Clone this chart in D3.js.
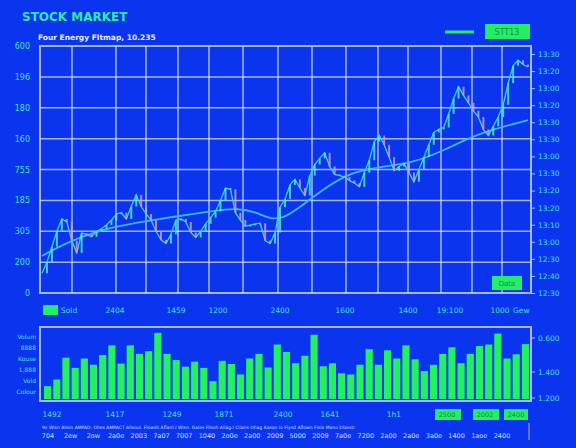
<!DOCTYPE html>
<html><head><meta charset="utf-8">
<script src="https://cdn.jsdelivr.net/npm/d3@7"></script>
<style>body{margin:0;background:#0b34ee}svg{display:block}text{font-family:"DejaVu Sans",sans-serif}</style>
</head><body><svg id="c" width="576" height="448"></svg>
<script>
const closes=[32,50,75,100,120,115,85,65,97,95,91,100,104,110,118,128,130,120,140,159,140,128,118,100,86,80,95,118,120,115,98,90,100,112,122,132,150,170,168,130,118,108,110,112,113,85,80,98,139,152,175,184,170,158,190,208,218,227,205,192,190,188,182,178,172,195,215,245,255,240,220,198,205,210,195,180,200,220,240,260,265,268,290,315,334,320,308,295,285,265,255,270,285,305,340,368,377,370,366];
const maX=[0,6,14,22,32,40,44,48,54.6,61.4,68,74.6,81.4,88,98];
const maVals=[60,86,107,118,130,139,128,113,156,194,204,210,232,259,280];
const volumes=[33,50,106,80,104,88,113,138,91,138,116,123,170,116,100,83,96,80,46,98,90,63,104,116,81,140,121,92,111,165,84,92,66,63,88,128,88,125,104,138,102,72,88,116,133,92,116,136,140,168,104,115,141];
const leftTicks=["0","200","305","185","755","160","180","196","600"];
const rightTicks=["12:30","12:40","12:30","13:00","13:10","13:20","13:20","13:30","13:00","13:30","13:30","13:20","13:00","13:20","13:30"];
const vGrid=[72,116,146,178,209,243,278,312,346,378,408,441,472,502];
const xLabels1=[["2404",115],["1459",176],["1200",218],["2400",280],["1600",345],["1400",408],["19:100",450],["1000",500]];
const xLabels2=[["1492",52],["1417",115],["1249",172],["1871",224],["2400",283],["1641",330],["1h1",394]];
const volLeft=["Volum","8888","Kouse","1,888","Vold","Colour"];
const volRight=["0.600","1.400","1.200"];
const row2=["704","2ew","2ow","2a0e","2003","7a07","7007","1040","2o0e","2a00","2009","5000","2009","7a0e","7200","2a00","2a0e","3a0e","1400","1aoe","2400"];

const svg=d3.select("#c");
const G="rgba(215,230,255,0.75)",TXT="#44e0c0",GREEN="#22ee66";
const L=40,R=531,T=46,B=293;
const x=d3.scaleLinear().domain([0,closes.length-1]).range([L+2,R-3]);
const y=d3.scaleLinear().domain([0,400]).range([B,T]);
const yg=d3.scaleLinear().domain([0,8]).range([B,T]);
svg.append("g").selectAll("line").data(d3.range(1,8)).join("line")
 .attr("x1",L).attr("x2",R).attr("y1",d=>yg(d)).attr("y2",d=>yg(d)).attr("stroke",G).attr("stroke-width",1.5);
svg.append("g").selectAll("line").data(vGrid).join("line")
 .attr("x1",d=>d).attr("x2",d=>d).attr("y1",T).attr("y2",B).attr("stroke",G).attr("stroke-width",1.5);
svg.append("rect").attr("x",L).attr("y",T).attr("width",R-L).attr("height",B-T).attr("fill","none").attr("stroke",G).attr("stroke-width",2);
svg.append("g").selectAll("text").data(leftTicks).join("text").attr("x",30).attr("y",(d,i)=>yg(i)+3)
 .attr("text-anchor","end").attr("font-size",8).attr("fill",TXT).text(d=>d);
const yr=d3.scalePoint().domain(d3.range(15)).range([B,54]);
const ra=svg.append("g").attr("transform",`translate(${R},0)`).call(d3.axisRight(yr).tickSize(4).tickFormat(i=>rightTicks[i]));
ra.select(".domain").remove();
ra.selectAll("line").attr("stroke",G);
ra.selectAll("text").attr("fill",TXT).attr("font-size",7.5);
svg.append("path").datum(maX.map((d,i)=>[d,maVals[i]])).attr("fill","none").attr("stroke","#38b8e8").attr("stroke-width",1.8)
 .attr("d",d3.line().x(d=>x(d[0])).y(d=>y(d[1])).curve(d3.curveBasis));
svg.append("path").datum(closes).attr("fill","none").attr("stroke","#38d8c0").attr("stroke-width",1.3)
 .attr("d",d3.line().x((d,i)=>x(i)).y(d=>y(d)));
svg.append("g").selectAll("rect").data(closes.slice(1)).join("rect")
 .attr("x",(d,i)=>x(i+1)-1).attr("width",2)
 .attr("y",(d,i)=>y(Math.max(d,closes[i]))).attr("height",(d,i)=>Math.max(1.5,Math.abs(y(d)-y(closes[i]))))
 .attr("fill",(d,i)=>d>=closes[i]?"#50f0c8":"#e098b8").attr("opacity",0.8);
svg.append("text").attr("x",22).attr("y",21).attr("font-size",12).attr("font-weight","bold").attr("fill","#30e8a8").text("STOCK MARKET");
svg.append("text").attr("x",38).attr("y",40).attr("font-size",7.5).attr("font-weight","bold").attr("fill","#e8f0ff").text("Four Energy Fltmap, 10.235");
svg.append("line").attr("x1",445).attr("x2",474).attr("y1",32).attr("y2",32).attr("stroke",GREEN).attr("stroke-width",3);
svg.append("rect").attr("x",485).attr("y",24).attr("width",45).attr("height",15).attr("fill",GREEN);
svg.append("text").attr("x",507).attr("y",35).attr("text-anchor","middle").attr("font-size",8).attr("fill","#109040").text("STT13");
svg.append("rect").attr("x",492).attr("y",276).attr("width",30).attr("height",14).attr("fill",GREEN);
svg.append("text").attr("x",507).attr("y",286).attr("text-anchor","middle").attr("font-size",7).attr("fill","#109040").text("Data");
svg.append("rect").attr("x",43).attr("y",305).attr("width",15).attr("height",10).attr("fill",GREEN);
svg.append("text").attr("x",61).attr("y",313).attr("font-size",7.5).attr("fill",TXT).text("Sold");
svg.append("g").selectAll("text").data(xLabels1).join("text").attr("x",d=>d[1]).attr("y",313).attr("text-anchor","middle")
 .attr("font-size",7.5).attr("fill",TXT).text(d=>d[0]);
svg.append("text").attr("x",513).attr("y",313).attr("font-size",7.5).attr("fill",TXT).text("Gew");
const VL=40,VR=531,VT=327,VB=401;
const xb=d3.scaleBand().domain(d3.range(volumes.length)).range([VL+4,VR-2]).paddingInner(0.22);
const yv=d3.scaleLinear().domain([0,185]).range([VB-2,VT]);
svg.append("g").selectAll("rect").data(volumes).join("rect").attr("x",(d,i)=>xb(i)).attr("width",xb.bandwidth())
 .attr("y",d=>yv(d)).attr("height",d=>yv(0)-yv(d)).attr("fill","#22f060");
svg.append("rect").attr("x",VL).attr("y",VT).attr("width",VR-VL).attr("height",VB-VT).attr("fill","none").attr("stroke",G).attr("stroke-width",2);
svg.append("g").selectAll("text").data(volLeft).join("text").attr("x",36).attr("y",(d,i)=>339+i*11)
 .attr("text-anchor","end").attr("font-size",6).attr("fill",TXT).text(d=>d);
const vr=[338,372,398];
svg.append("g").selectAll("line").data(vr).join("line").attr("x1",R).attr("x2",R+4).attr("y1",d=>d).attr("y2",d=>d).attr("stroke",G);
svg.append("g").selectAll("text").data(volRight).join("text").attr("x",R+7).attr("y",(d,i)=>vr[i]+3)
 .attr("font-size",7.5).attr("fill",TXT).text(d=>d);
svg.append("g").selectAll("text").data(xLabels2).join("text").attr("x",d=>d[1]).attr("y",417).attr("text-anchor","middle")
 .attr("font-size",7.5).attr("fill",TXT).text(d=>d[0]);
[[435,"2500"],[473,"2002"],[504,"2400"]].forEach(([bx,t])=>{
 svg.append("rect").attr("x",bx).attr("y",409).attr("width",bx===504?24:26).attr("height",11).attr("fill",GREEN);
 svg.append("text").attr("x",bx+12).attr("y",417).attr("text-anchor","middle").attr("font-size",6.5).attr("fill","#109040").text(t);
});
svg.append("text").attr("x",42).attr("y",429).attr("font-size",4.5).attr("fill","#c8d8ff")
 .text("9x   Wisn Allsin AMPAD. Ohes AMPACT Allsoul. Flowsh Aflant.l Wisn. Gales Filsoh Allag.l Cilans Ohag Aasan lo Flysd Aflown Flsle Mano Dlasstl");
svg.append("g").selectAll("text").data(row2).join("text").attr("x",(d,i)=>48+i*22.7).attr("y",438).attr("text-anchor","middle")
 .attr("font-size",6.5).attr("fill","#c8e0ff").text(d=>d);
svg.append("line").attr("x1",529).attr("x2",529).attr("y1",423).attr("y2",440).attr("stroke",G);
</script></body></html>
